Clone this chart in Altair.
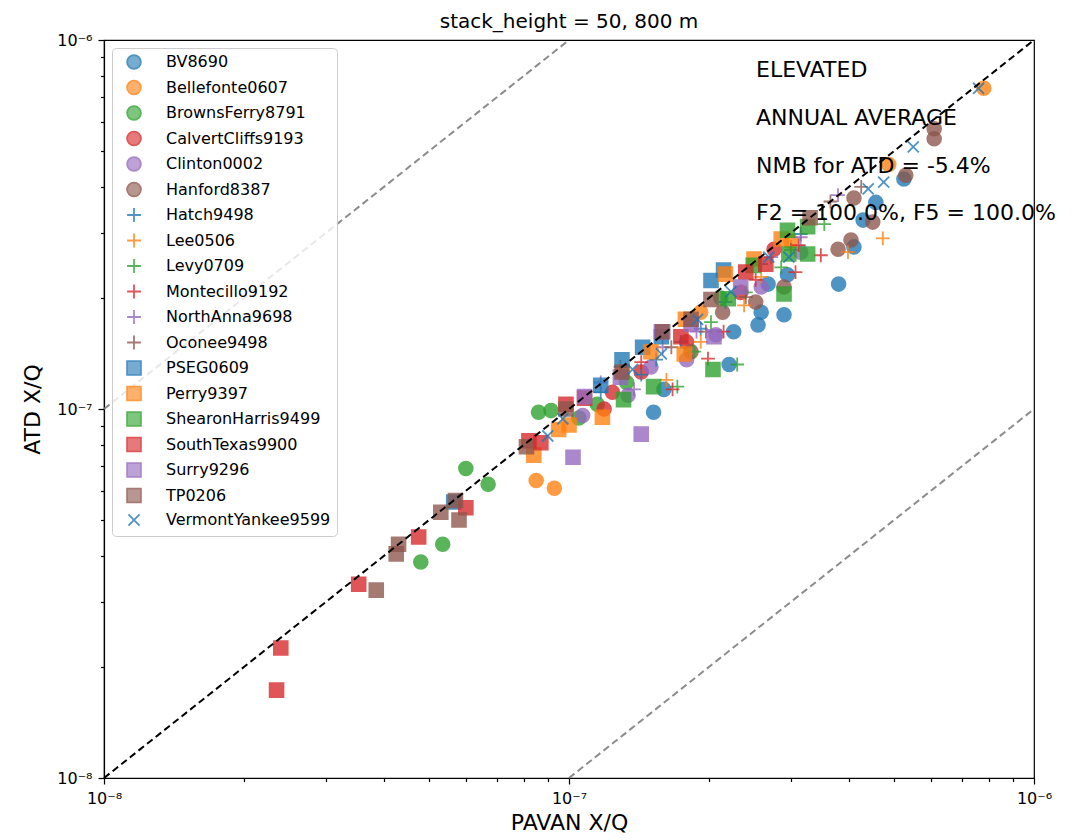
import altair as alt
import pandas as pd

UNIT = 1e-7  # all X/Q values below are given in units of 1e-7

sites = ["BV8690", "Bellefonte0607", "BrownsFerry8791", "CalvertCliffs9193", "Clinton0002",
         "Hanford8387", "Hatch9498", "Lee0506", "Levy0709", "Montecillo9192", "NorthAnna9698",
         "Oconee9498", "PSEG0609", "Perry9397", "ShearonHarris9499", "SouthTexas9900",
         "Surry9296", "TP0206", "VermontYankee9599"]

bv_pavan = [1.52, 1.60, 2.21, 2.26, 2.55, 2.59, 2.68, 2.90, 2.95, 3.80, 4.10, 4.29, 4.57, 5.25]
bv_atd = [0.98, 1.13, 1.32, 1.62, 1.69, 1.83, 2.18, 1.80, 2.31, 2.18, 2.75, 3.25, 3.63, 4.20]
bellefonte_pavan = [0.85, 0.93, 1.30, 1.92, 3.00, 4.87, 7.80]
bellefonte_atd = [0.64, 0.61, 1.26, 1.83, 2.85, 4.60, 7.40]
brownsferry_pavan = [0.48, 0.535, 0.60, 0.67, 0.86, 0.915, 1.05, 1.15, 1.33, 2.12]
brownsferry_atd = [0.385, 0.43, 0.69, 0.625, 0.98, 0.99, 0.945, 1.03, 1.18, 2.0]
calvert_pavan = [1.19, 1.24, 1.43, 1.79, 2.34, 2.76]
calvert_atd = [1.00, 1.11, 1.26, 1.52, 2.07, 2.71]
clinton_pavan = [1.07, 1.34, 1.50, 1.79, 2.07, 2.59, 3.15]
clinton_atd = [0.96, 1.09, 1.30, 1.36, 1.59, 2.14, 2.66]
hanford_pavan = [1.83, 2.14, 2.52, 2.90, 3.79, 4.04, 4.10, 4.50, 5.30, 6.10, 6.10]
hanford_atd = [1.43, 1.83, 1.95, 2.14, 2.71, 2.87, 3.73, 3.21, 4.30, 5.75, 5.40]
hatch_pavan = [1.17, 1.43, 1.54, 1.74, 1.92, 2.17, 2.59, 3.15]
hatch_atd = [1.11, 1.24, 1.36, 1.52, 1.65, 1.95, 2.47, 2.98]
lee_pavan = [1.62, 1.92, 2.38, 2.59, 3.00, 3.98, 4.73]
lee_atd = [1.20, 1.52, 1.91, 2.28, 2.75, 2.66, 2.90]
levy_pavan = [1.71, 1.86, 2.02, 2.30, 2.40, 2.86, 3.54]
levy_atd = [1.15, 1.43, 1.72, 1.32, 2.07, 2.42, 3.17]
montecillo_pavan = [1.43, 1.67, 1.99, 2.15, 2.52, 3.07, 3.12, 3.48]
montecillo_atd = [1.34, 1.13, 1.37, 1.62, 2.24, 2.35, 2.78, 2.61]
northanna_pavan = [1.17, 1.38, 1.59, 1.88, 2.28, 2.72, 3.15, 3.79]
northanna_atd = [1.18, 1.13, 1.47, 1.62, 2.07, 2.58, 2.92, 3.80]
oconee_pavan = [1.29, 1.66, 1.97, 2.40, 3.00, 3.65, 4.25]
oconee_atd = [1.30, 1.47, 1.62, 2.01, 2.70, 3.65, 4.00]
pseg_pavan = [0.565, 1.17, 1.30, 1.44, 1.58, 2.02, 2.15]
pseg_atd = [0.56, 1.16, 1.36, 1.47, 1.57, 2.23, 2.38]
perry_pavan = [0.84, 0.95, 1.00, 1.18, 1.50, 1.77, 1.78, 2.17, 2.50, 2.86]
perry_atd = [0.75, 0.88, 0.905, 0.95, 1.43, 1.41, 1.75, 2.32, 2.55, 2.89]
shearon_pavan = [1.31, 1.52, 2.04, 2.20, 2.49, 2.90, 2.97, 3.26, 2.95, 3.26]
shearon_atd = [1.06, 1.15, 1.28, 1.99, 2.45, 2.05, 2.63, 2.63, 3.05, 3.12]
southtexas_pavan = [0.235, 0.24, 0.353, 0.475, 0.60, 0.82, 0.87, 0.985, 1.08, 1.74, 2.40, 2.65]
southtexas_atd = [0.173, 0.225, 0.335, 0.45, 0.54, 0.82, 0.81, 1.03, 1.07, 1.57, 2.35, 2.47]
surry_pavan = [1.02, 1.08, 1.29, 1.43, 1.58, 1.83, 2.05, 2.34]
surry_atd = [0.74, 1.08, 1.22, 0.855, 1.62, 1.70, 1.57, 2.14]
tp_pavan = [0.385, 0.425, 0.43, 0.53, 0.58, 0.57, 0.81, 0.985, 1.30, 1.59, 1.83, 2.02, 3.30]
tp_atd = [0.323, 0.405, 0.43, 0.525, 0.50, 0.565, 0.79, 1.00, 1.26, 1.62, 1.75, 1.98, 3.30]
vy_pavan = [0.90, 0.97, 1.37, 1.58, 1.89, 2.23, 2.69, 2.97, 4.40, 4.75, 5.50, 7.60]
vy_atd = [0.845, 0.94, 1.28, 1.41, 1.75, 2.08, 2.58, 2.58, 3.95, 4.12, 5.13, 7.40]

series = [
    (bv_pavan, bv_atd), (bellefonte_pavan, bellefonte_atd), (brownsferry_pavan, brownsferry_atd),
    (calvert_pavan, calvert_atd), (clinton_pavan, clinton_atd), (hanford_pavan, hanford_atd),
    (hatch_pavan, hatch_atd), (lee_pavan, lee_atd), (levy_pavan, levy_atd),
    (montecillo_pavan, montecillo_atd), (northanna_pavan, northanna_atd), (oconee_pavan, oconee_atd),
    (pseg_pavan, pseg_atd), (perry_pavan, perry_atd), (shearon_pavan, shearon_atd),
    (southtexas_pavan, southtexas_atd), (surry_pavan, surry_atd), (tp_pavan, tp_atd),
    (vy_pavan, vy_atd),
]

rows = []
for name, (xs, ys) in zip(sites, series):
    for xv, yv in zip(xs, ys):
        rows.append({"site": name, "pavan": xv * UNIT, "atd": yv * UNIT})
df = pd.DataFrame(rows)

# reference lines: 1:1 and factor-of-10 lines
ref_one = pd.DataFrame({"pavan": [1e-8, 1e-6], "atd": [1e-8, 1e-6], "line": ["1:1", "1:1"]})
ref_ten = pd.DataFrame({"pavan": [1e-8, 1e-7, 1e-7, 1e-6], "atd": [1e-7, 1e-6, 1e-8, 1e-7],
                        "line": ["upper", "upper", "lower", "lower"]})

tab = ["#1f77b4", "#ff7f0e", "#2ca02c", "#d62728", "#9467bd", "#8c564b"]
colors = tab + tab + tab + ["#1f77b4"]
PLUS = "M-1,0L1,0M0,-1L0,1"
XMARK = "M-0.8,-0.8L0.8,0.8M-0.8,0.8L0.8,-0.8"
shapes = ["circle"] * 6 + [PLUS] * 6 + ["square"] * 6 + [XMARK]

tick_vals = [1e-8, 2e-8, 3e-8, 4e-8, 5e-8, 6e-8, 7e-8, 8e-8, 9e-8,
             1e-7, 2e-7, 3e-7, 4e-7, 5e-7, 6e-7, 7e-7, 8e-7, 9e-7, 1e-6]

FONT = "DejaVu Sans"
lg = "log(datum.value)/LN10"
label_expr = (f"abs({lg}+8)<0.01 ? '10⁻⁸' : abs({lg}+7)<0.01 ? '10⁻⁷' : "
              f"abs({lg}+6)<0.01 ? '10⁻⁶' : ''")
tick_cond = {"condition": {"test": f"abs({lg}-round({lg}))<0.01", "value": 6}, "value": 3.5}


def make_axis(title_pad):
    return alt.Axis(values=tick_vals, labelExpr=label_expr, tickSize=tick_cond, grid=False,
                    labelFlush=False, labelOverlap=False, labelFontSize=16, labelFont=FONT,
                    titleFont=FONT, titleFontSize=22, titleFontWeight="normal",
                    labelPadding=6, titlePadding=title_pad, tickColor="black",
                    domainColor="black", labelColor="black", titleColor="black")


xscale = alt.Scale(type="log", domain=[1e-8, 1e-6], nice=False)
yscale = alt.Scale(type="log", domain=[1e-8, 1e-6], nice=False)
x_enc = alt.X("pavan:Q", scale=xscale, axis=make_axis(6), title="PAVAN X/Q")
y_enc = alt.Y("atd:Q", scale=yscale, axis=make_axis(12), title="ATD X/Q")

leg = alt.Legend(title=None, orient="top-left", offset=8, padding=6, symbolOffset=8,
                 labelFontSize=16, labelFont=FONT, symbolSize=190, rowPadding=3.5,
                 labelOffset=24, fillColor="rgba(255,255,255,0.8)", strokeColor="#cccccc",
                 cornerRadius=4, symbolStrokeWidth=1.8, labelLimit=300, labelColor="black")

points = alt.Chart(df).mark_point(filled=True, size=190, opacity=0.78, strokeWidth=1.8).encode(
    x=x_enc,
    y=y_enc,
    fill=alt.Fill("site:N", scale=alt.Scale(domain=sites, range=colors), legend=leg),
    stroke=alt.Stroke("site:N", scale=alt.Scale(domain=sites, range=colors), legend=leg),
    shape=alt.Shape("site:N", scale=alt.Scale(domain=sites, range=shapes), legend=leg),
)

gray_lines = alt.Chart(ref_ten).mark_line(color="#808080", strokeDash=[7, 4], strokeWidth=2,
                                          opacity=0.9).encode(x=x_enc, y=y_enc, detail="line:N")
one_line = alt.Chart(ref_one).mark_line(color="black", strokeDash=[7, 4], strokeWidth=2).encode(
    x=x_enc, y=y_enc, detail="line:N")

ann_lines = ["ELEVATED", "ANNUAL AVERAGE", "NMB for ATD = -5.4%", "F2 = 100.0%, F5 = 100.0%"]
ann_y = [37, 85, 133, 180]
dummy = pd.DataFrame({"k": [0]})
texts = []
for t, yy in zip(ann_lines, ann_y):
    texts.append(alt.Chart(dummy).mark_text(align="left", baseline="alphabetic", fontSize=22,
                                             font=FONT, color="black").encode(
        x=alt.value(652), y=alt.value(yy), text=alt.value(t)))

chart = alt.layer(points, gray_lines, one_line, *texts).properties(
    width=930, height=738,
    title=alt.TitleParams("stack_height = 50, 800 m", fontSize=20, font=FONT,
                          fontWeight="normal", offset=0, color="black"),
    padding={"left": 21, "top": 12, "right": 5, "bottom": 5},
).configure_view(stroke="black", strokeWidth=1.2).configure_axis(domainWidth=1.2, tickWidth=1.2)

chart.save("out.html", embed_options={"renderer": "svg", "actions": False})
